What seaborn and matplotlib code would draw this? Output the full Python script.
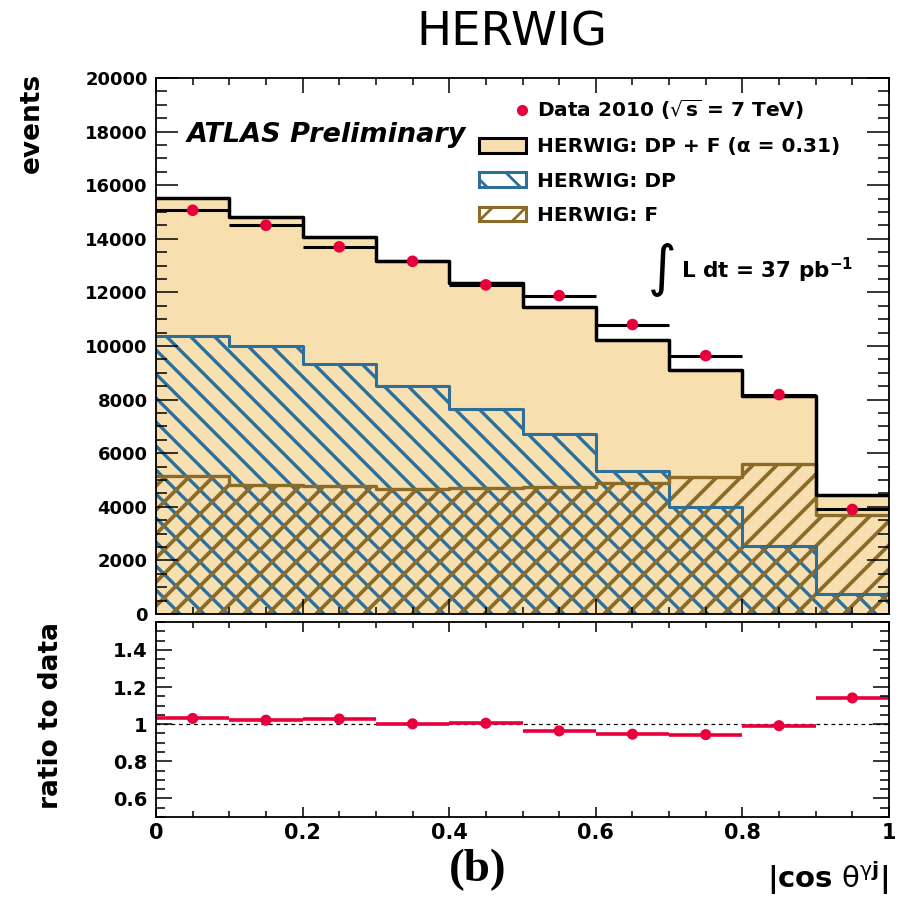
import numpy as np
import pandas as pd
import matplotlib
matplotlib.use("Agg")
import matplotlib.pyplot as plt
import seaborn as sns
from matplotlib.collections import LineCollection
from matplotlib.lines import Line2D
from matplotlib.patches import Patch
from matplotlib.legend_handler import HandlerBase
from matplotlib.ticker import MultipleLocator

# ---- binned data: |cos theta^{gamma j}| ----
bin_edges = [0.0, 0.1, 0.2, 0.3, 0.4, 0.5, 0.6, 0.7, 0.8, 0.9, 1.0]
data_events = [15065, 14505, 13700, 13160, 12280, 11880, 10800, 9640, 8187, 3900]
herwig_dp = [10380, 9993, 9320, 8523, 7650, 6700, 5320, 3974, 2530, 760]
herwig_f = [5150, 4822, 4760, 4660, 4690, 4748, 4897, 5121, 5590, 3690]

events_ticks = [0, 2000, 4000, 6000, 8000, 10000, 12000, 14000, 16000, 18000, 20000]
events_tick_labels = ["0", "2000", "4000", "6000", "8000", "10000", "12000",
                      "14000", "16000", "18000", "20000"]
ratio_ticks = [0.6, 0.8, 1.0, 1.2, 1.4]
ratio_tick_labels = ["0.6", "0.8", "1", "1.2", "1.4"]
cos_ticks = [0.0, 0.2, 0.4, 0.6, 0.8, 1.0]
cos_tick_labels = ["0", "0.2", "0.4", "0.6", "0.8", "1"]

legend_labels = [r"Data 2010 ($\sqrt{\mathbf{s}}$ = 7 TeV)",
                 "HERWIG: DP + F (α = 0.31)",
                 "HERWIG: DP",
                 "HERWIG: F"]

# ---- colours ----
RED = "#E8003C"
WHEAT = "#F7DFB0"
BLUE = "#2E6F97"
BROWN = "#8C6A28"

edges = np.array(bin_edges)
centers = 0.5 * (edges[:-1] + edges[1:])
half_width = 0.5 * np.diff(edges)
dp = np.array(herwig_dp, dtype=float)
f = np.array(herwig_f, dtype=float)
data = np.array(data_events, dtype=float)
total = dp + f
ratio = total / data

df = pd.DataFrame({"cos": centers, "data": data, "dp": dp, "f": f,
                   "total": total, "ratio": ratio})

sns.set_style("ticks")
plt.rcParams["font.family"] = ["DejaVu Sans"]
plt.rcParams["mathtext.fontset"] = "dejavusans"
plt.rcParams["hatch.linewidth"] = 2.0
for key in ("text.color", "axes.labelcolor", "xtick.color", "ytick.color",
            "axes.edgecolor"):
    plt.rcParams[key] = "black"

W, H = 906, 897
fig = plt.figure(figsize=(W / 100, H / 100), dpi=100)


def fx(x):
    return x / W


def fy(y):
    return 1 - y / H


ax = fig.add_axes([fx(156), fy(614), (889 - 156) / W, (614 - 78) / H])
axr = fig.add_axes([fx(156), fy(817), (889 - 156) / W, (817 - 622) / H])


def step_hist(target, column, **kws):
    sns.histplot(data=df, x="cos", weights=column, bins=list(bin_edges),
                 element="step", stat="count", ax=target, legend=False, **kws)


def hatch_region(target, region, color, rising, spacing=24, lw=2.4, z=2):
    w, h = target.bbox.width, target.bbox.height
    segs = []
    if rising:
        for c in np.arange(-h, w + spacing, spacing):
            segs.append([(c / w, 0), ((c + h) / w, 1)])
    else:
        for c in np.arange(0, w + h + spacing, spacing):
            segs.append([(c / w, 0), ((c - h) / w, 1)])
    lc = LineCollection(segs, colors=color, linewidths=lw,
                        transform=target.transAxes, zorder=z)
    target.add_collection(lc, autolim=False)
    lc.set_clip_path(region.get_paths()[0], target.transData)


# ---- upper panel: stacked model and data ----
step_hist(ax, "total", fill=True, color=WHEAT, facecolor=WHEAT,
          edgecolor="none", linewidth=0, alpha=1, zorder=1)

step_hist(ax, "dp", fill=True, color=BLUE, facecolor="none", edgecolor="none",
          linewidth=0, alpha=1, zorder=1.5)
dp_region = ax.collections[-1]
step_hist(ax, "f", fill=True, color=BROWN, facecolor="none", edgecolor="none",
          linewidth=0, alpha=1, zorder=1.5)
f_region = ax.collections[-1]

hatch_region(ax, dp_region, BLUE, rising=False, lw=2.4, z=2)
hatch_region(ax, f_region, BROWN, rising=True, lw=2.7, z=2.1)

step_hist(ax, "dp", fill=False, color=BLUE, linewidth=2.2, zorder=2.5)
step_hist(ax, "f", fill=False, color=BROWN, linewidth=2.4, zorder=2.6)
step_hist(ax, "total", fill=False, color="black", linewidth=2.5, zorder=3)

ax.errorbar(df["cos"], df["data"], xerr=half_width, fmt="none",
            ecolor="black", elinewidth=2.2, capsize=0, zorder=4)
sns.scatterplot(data=df, x="cos", y="data", ax=ax, color=RED, s=70,
                edgecolor="none", zorder=5, legend=False)

ax.set_xlim(0, 1)
ax.set_ylim(0, 20000)
ax.set_xticks(cos_ticks)
ax.set_xticklabels([])
ax.xaxis.set_minor_locator(MultipleLocator(0.05))
ax.set_yticks(events_ticks)
ax.set_yticklabels(events_tick_labels, fontweight="bold", fontsize=13)
ax.yaxis.set_minor_locator(MultipleLocator(500))
ax.set_xlabel("")
ax.set_ylabel("")
ax.tick_params(axis="both", which="both", direction="in", top=True, right=True,
               width=1.1, color="black", labelcolor="black")
ax.tick_params(axis="y", which="major", length=15.5, pad=6)
ax.tick_params(axis="y", which="minor", length=7.8)
ax.tick_params(axis="x", which="major", length=10.8)
ax.tick_params(axis="x", which="minor", length=5)

# ---- lower panel: ratio ----
axr.axhline(1.0, color="black", lw=0.9, ls=(0, (3, 3)), zorder=1)
axr.errorbar(df["cos"], df["ratio"], xerr=half_width, fmt="none",
             ecolor=RED, elinewidth=2.6, capsize=0, zorder=3)
sns.scatterplot(data=df, x="cos", y="ratio", ax=axr, color=RED, s=64,
                edgecolor="none", zorder=4, legend=False)
axr.set_xlim(0, 1)
axr.set_ylim(0.5, 1.55)
axr.set_xticks(cos_ticks)
axr.set_xticklabels(cos_tick_labels, fontweight="bold", fontsize=15)
axr.xaxis.set_minor_locator(MultipleLocator(0.05))
axr.set_yticks(ratio_ticks)
axr.set_yticklabels(ratio_tick_labels, fontweight="bold", fontsize=14)
axr.yaxis.set_minor_locator(MultipleLocator(0.05))
axr.set_xlabel("")
axr.set_ylabel("")
axr.tick_params(axis="both", which="both", direction="in", top=True, right=True,
                width=1.1, color="black", labelcolor="black")
axr.tick_params(axis="y", which="major", length=11.5, pad=6)
axr.tick_params(axis="y", which="minor", length=6.2)
axr.tick_params(axis="x", which="major", length=7.5, pad=4)
axr.tick_params(axis="x", which="minor", length=4.5)

for a in (ax, axr):
    for sp in a.spines.values():
        sp.set_linewidth(1.3)
        sp.set_color("black")
        sp.set_zorder(10)
    a.xaxis.set_zorder(9)
    a.yaxis.set_zorder(9)


# ---- legend ----
class DotHandler(HandlerBase):
    def create_artists(self, legend, orig_handle, xdescent, ydescent,
                       width, height, fontsize, trans):
        dot = Line2D([width * 0.92 - xdescent], [height / 2 - ydescent],
                     marker="o", linestyle="none", color=RED,
                     markersize=8, markeredgewidth=0, transform=trans)
        return [dot]


data_handle = Line2D([], [], marker="o", color=RED, linestyle="none")
handles = [
    data_handle,
    Patch(facecolor=WHEAT, edgecolor="black", linewidth=2.2),
    Patch(facecolor="white", edgecolor=BLUE, hatch="\\", linewidth=2.2),
    Patch(facecolor="white", edgecolor=BROWN, hatch="/", linewidth=2.2),
]
ax.legend(handles, legend_labels, loc="upper left",
          bbox_to_anchor=(0.44, 0.963), frameon=False, borderpad=0,
          borderaxespad=0, handlelength=2.35, handleheight=0.75,
          handletextpad=0.55, labelspacing=0.76,
          prop={"weight": "bold", "size": 14.5},
          handler_map={data_handle: DotHandler()})

# ---- text ----
fig.text(fx(512), fy(45), "HERWIG", ha="center", va="baseline", fontsize=33.5,
         color="black")
fig.text(fx(187), fy(142), "ATLAS Preliminary", ha="left", va="baseline",
         fontsize=19.5, fontweight="bold", fontstyle="italic")
fig.text(fx(661), fy(270), r"$\int$", ha="center", va="center", fontsize=28)
fig.text(fx(681), fy(278), r"L dt = 37 pb$^{\mathbf{-1}}$", ha="left",
         va="baseline", fontsize=15.5, fontweight="bold")
fig.text(fx(32), fy(73), "events", rotation=90, ha="center", va="top",
         fontsize=19, fontweight="bold")
fig.text(fx(51), fy(622), "ratio to data", rotation=90, ha="center", va="top",
         fontsize=19, fontweight="bold")
fig.text(fx(889), fy(888),
         r"$\mathbf{|cos}\ \mathrm{θ}^{\mathrm{γ}\mathbf{j}}\mathbf{|}$",
         ha="right", va="baseline", fontsize=21)
fig.text(fx(478), fy(870), "(b)", ha="center", va="center", fontsize=34,
         fontweight="bold", family=["Liberation Serif", "DejaVu Serif"])

fig.savefig("out.png", dpi=100)
